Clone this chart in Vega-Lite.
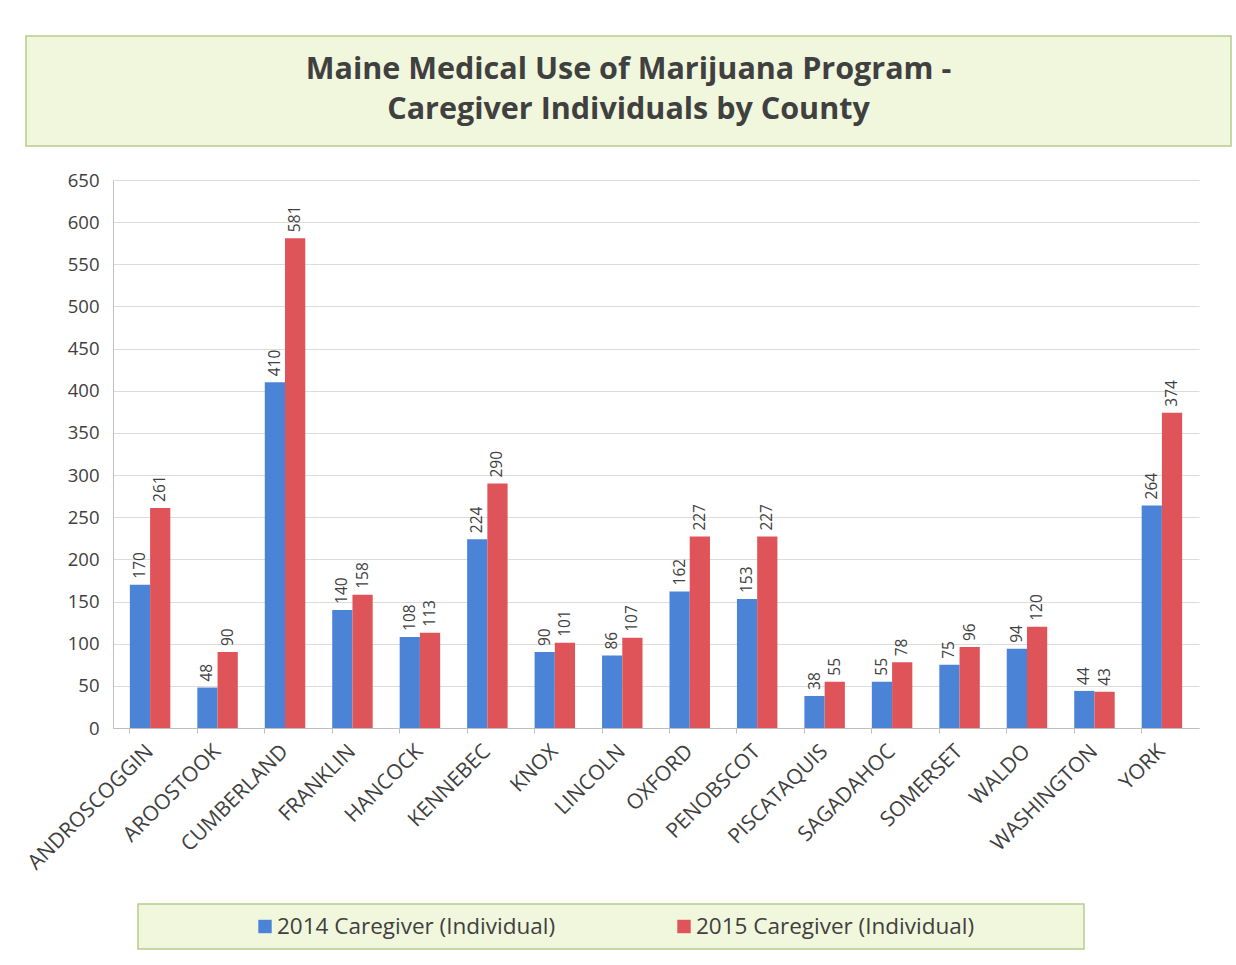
{
  "$schema": "https://vega.github.io/schema/vega-lite/v6.json",
  "background": "white",
  "padding": {"left": 23, "top": 35, "right": 5, "bottom": 5},
  "config": {
    "font": "Open Sans",
    "view": {"stroke": null}
  },
  "datasets": {
    "counties": [
      {"county": "ANDROSCOGGIN", "series": "2014 Caregiver (Individual)", "value": 170},
      {"county": "ANDROSCOGGIN", "series": "2015 Caregiver (Individual)", "value": 261},
      {"county": "AROOSTOOK", "series": "2014 Caregiver (Individual)", "value": 48},
      {"county": "AROOSTOOK", "series": "2015 Caregiver (Individual)", "value": 90},
      {"county": "CUMBERLAND", "series": "2014 Caregiver (Individual)", "value": 410},
      {"county": "CUMBERLAND", "series": "2015 Caregiver (Individual)", "value": 581},
      {"county": "FRANKLIN", "series": "2014 Caregiver (Individual)", "value": 140},
      {"county": "FRANKLIN", "series": "2015 Caregiver (Individual)", "value": 158},
      {"county": "HANCOCK", "series": "2014 Caregiver (Individual)", "value": 108},
      {"county": "HANCOCK", "series": "2015 Caregiver (Individual)", "value": 113},
      {"county": "KENNEBEC", "series": "2014 Caregiver (Individual)", "value": 224},
      {"county": "KENNEBEC", "series": "2015 Caregiver (Individual)", "value": 290},
      {"county": "KNOX", "series": "2014 Caregiver (Individual)", "value": 90},
      {"county": "KNOX", "series": "2015 Caregiver (Individual)", "value": 101},
      {"county": "LINCOLN", "series": "2014 Caregiver (Individual)", "value": 86},
      {"county": "LINCOLN", "series": "2015 Caregiver (Individual)", "value": 107},
      {"county": "OXFORD", "series": "2014 Caregiver (Individual)", "value": 162},
      {"county": "OXFORD", "series": "2015 Caregiver (Individual)", "value": 227},
      {"county": "PENOBSCOT", "series": "2014 Caregiver (Individual)", "value": 153},
      {"county": "PENOBSCOT", "series": "2015 Caregiver (Individual)", "value": 227},
      {"county": "PISCATAQUIS", "series": "2014 Caregiver (Individual)", "value": 38},
      {"county": "PISCATAQUIS", "series": "2015 Caregiver (Individual)", "value": 55},
      {"county": "SAGADAHOC", "series": "2014 Caregiver (Individual)", "value": 55},
      {"county": "SAGADAHOC", "series": "2015 Caregiver (Individual)", "value": 78},
      {"county": "SOMERSET", "series": "2014 Caregiver (Individual)", "value": 75},
      {"county": "SOMERSET", "series": "2015 Caregiver (Individual)", "value": 96},
      {"county": "WALDO", "series": "2014 Caregiver (Individual)", "value": 94},
      {"county": "WALDO", "series": "2015 Caregiver (Individual)", "value": 120},
      {"county": "WASHINGTON", "series": "2014 Caregiver (Individual)", "value": 44},
      {"county": "WASHINGTON", "series": "2015 Caregiver (Individual)", "value": 43},
      {"county": "YORK", "series": "2014 Caregiver (Individual)", "value": 264},
      {"county": "YORK", "series": "2015 Caregiver (Individual)", "value": 374}
    ]
  },
  "spacing": 24,
  "vconcat": [
    {
      "width": 1205,
      "height": 110,
      "view": {"fill": "#f1f7dc", "stroke": "#b7cb8c", "strokeWidth": 1.5},
      "data": {"values": [{"title": "Maine Medical Use of Marijuana Program -\nCaregiver Individuals by  County"}]},
      "mark": {"type": "text", "lineBreak": "\n", "fontSize": 30.5, "fontWeight": "bold", "color": "#404040", "lineHeight": 40, "baseline": "middle", "align": "center", "dy": -21},
      "encoding": {"text": {"field": "title"}}
    },
    {
      "bounds": "flush",
      "spacing": 0,
      "hconcat": [
        {
          "width": 87,
          "height": 1,
          "data": {"values": [{"spacer": ""}]},
          "mark": {"type": "text"},
          "encoding": {"text": {"field": "spacer"}}
        },
        {
          "width": 1086,
          "height": 548,
          "data": {"name": "counties"},
          "encoding": {
            "x": {
              "field": "county", "type": "nominal", "sort": null, "title": null,
              "scale": {"paddingInner": 0.4, "paddingOuter": 0.25},
              "axis": {"labelAngle": -45, "labelAlign": "right", "labelBaseline": "middle", "labelFontSize": 21, "labelColor": "#404040", "domainColor": "#bfbfbf", "tickColor": "#bfbfbf", "bandPosition": 0, "tickSize": 5, "labelPadding": 15}
            },
            "y": {
              "field": "value", "type": "quantitative", "title": null,
              "scale": {"domain": [0, 650]},
              "axis": {"values": [0, 50, 100, 150, 200, 250, 300, 350, 400, 450, 500, 550, 600, 650], "labelFontSize": 18.5, "labelColor": "#404040", "gridColor": "#dcdcdc", "domainColor": "#bfbfbf", "ticks": false, "labelPadding": 14}
            },
            "xOffset": {"field": "series", "type": "nominal", "scale": {"paddingInner": 0}},
            "color": {
              "field": "series", "type": "nominal", "legend": null,
              "scale": {"domain": ["2014 Caregiver (Individual)", "2015 Caregiver (Individual)"], "range": ["#4b84d6", "#de5458"]}
            }
          },
          "layer": [
            {"mark": {"type": "bar"}},
            {
              "mark": {"type": "text", "angle": 270, "align": "left", "baseline": "middle", "dx": 6, "fontSize": 15.5},
              "encoding": {"text": {"field": "value", "type": "quantitative"}, "color": {"value": "#404040"}}
            }
          ]
        }
      ]
    },
    {
      "bounds": "flush",
      "spacing": 0,
      "hconcat": [
        {
          "width": 112,
          "height": 1,
          "data": {"values": [{"spacer": ""}]},
          "mark": {"type": "text"},
          "encoding": {"text": {"field": "spacer"}}
        },
        {
          "width": 946,
          "height": 45,
          "view": {"fill": "#f1f7dc", "stroke": "#b7cb8c", "strokeWidth": 1.5},
          "data": {"values": [{"series": "2014 Caregiver (Individual)"}, {"series": "2015 Caregiver (Individual)"}]},
          "encoding": {
            "x": {"field": "series", "type": "nominal", "scale": {"type": "point", "range": [127, 546], "padding": 0}, "axis": null},
            "color": {"field": "series", "type": "nominal", "legend": null, "scale": {"domain": ["2014 Caregiver (Individual)", "2015 Caregiver (Individual)"], "range": ["#4b84d6", "#de5458"]}}
          },
          "layer": [
            {"mark": {"type": "square", "size": 180, "opacity": 1, "filled": true}},
            {"mark": {"type": "text", "align": "left", "baseline": "middle", "dx": 12, "fontSize": 22.5}, "encoding": {"text": {"field": "series"}, "color": {"value": "#404040"}}}
          ]
        }
      ]
    }
  ]
}
